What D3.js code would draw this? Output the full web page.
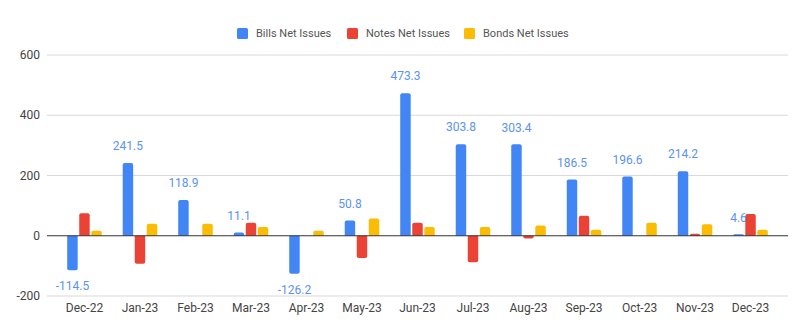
<!DOCTYPE html>
<html>
<head>
<meta charset="utf-8">
<script src="https://cdn.jsdelivr.net/npm/d3@7"></script>
<style>
  body { margin: 0; background: #fff; }
  svg { font-family: Roboto, Arial, sans-serif; }
</style>
</head>
<body>
<div id="chart"></div>
<script>
const months = ['Dec-22', 'Jan-23', 'Feb-23', 'Mar-23', 'Apr-23', 'May-23', 'Jun-23',
  'Jul-23', 'Aug-23', 'Sep-23', 'Oct-23', 'Nov-23', 'Dec-23'];
const seriesNames = ['Bills Net Issues', 'Notes Net Issues', 'Bonds Net Issues'];
const bills = [-114.5, 241.5, 118.9, 11.1, -126.2, 50.8, 473.3, 303.8, 303.4, 186.5, 196.6, 214.2, 4.6];
const notes = [75, -93, 0, 43, 0, -74, 43, -88, -9, 66, 0, 7, 72];
const bonds = [17, 40, 40, 29, 17, 57, 29, 29, 34, 20, 43, 38, 20];
const yTicks = [-200, 0, 200, 400, 600];

const colors = ['#4285f4', '#ea4335', '#fbbc04'];
const width = 798, height = 326;
const plotLeft = 47, plotRight = 788, plotTop = 55, plotBottom = 296;

const values = [bills, notes, bonds];

const svg = d3.select('#chart').append('svg')
  .attr('width', width)
  .attr('height', height);

const y = d3.scaleLinear().domain([-200, 600]).range([plotBottom, plotTop]);

const x0 = d3.scaleBand()
  .domain(months)
  .range([plotLeft, plotRight])
  .paddingInner(0.378)
  .paddingOuter(0.364);

const x1 = d3.scaleBand()
  .domain(seriesNames)
  .range([0, x0.bandwidth()])
  .paddingInner(0.13);

// gridlines
svg.append('g').selectAll('line')
  .data(yTicks.filter(t => t !== 0))
  .enter().append('line')
  .attr('x1', plotLeft).attr('x2', plotRight)
  .attr('y1', d => y(d)).attr('y2', d => y(d))
  .attr('stroke', '#d9d9d9').attr('stroke-width', 1);

// y tick labels
svg.append('g').selectAll('text')
  .data(yTicks)
  .enter().append('text')
  .attr('x', 40)
  .attr('y', d => y(d))
  .attr('dy', '0.35em')
  .attr('text-anchor', 'end')
  .attr('fill', '#444')
  .style('font-size', '12px')
  .text(d => d);

// x labels
svg.append('g').selectAll('text')
  .data(months)
  .enter().append('text')
  .attr('x', d => x0(d) + x0.bandwidth() / 2)
  .attr('y', 308)
  .attr('dy', '0.35em')
  .attr('text-anchor', 'middle')
  .attr('fill', '#444')
  .style('font-size', '12px')
  .text(d => d);

// bars
const groups = svg.append('g').selectAll('g')
  .data(months)
  .enter().append('g')
  .attr('transform', d => `translate(${x0(d)},0)`);

groups.selectAll('path')
  .data((m, i) => seriesNames.map((s, k) => ({ s, k, v: values[k][i] })))
  .enter().append('path')
  .attr('fill', d => colors[d.k])
  .attr('d', d => {
    const bx = x1(d.s), w = x1.bandwidth();
    const y0 = y(0), y1 = y(d.v);
    const h = Math.abs(y1 - y0);
    if (h < 0.5) return '';
    const r = Math.min(2, h);
    if (d.v >= 0) {
      return `M${bx},${y0}V${y1 + r}Q${bx},${y1} ${bx + r},${y1}H${bx + w - r}Q${bx + w},${y1} ${bx + w},${y1 + r}V${y0}Z`;
    }
    return `M${bx},${y0}V${y1 - r}Q${bx},${y1} ${bx + r},${y1}H${bx + w - r}Q${bx + w},${y1} ${bx + w},${y1 - r}V${y0}Z`;
  });

// zero line
svg.append('line')
  .attr('x1', plotLeft).attr('x2', plotRight)
  .attr('y1', y(0)).attr('y2', y(0))
  .attr('stroke', '#333').attr('stroke-width', 1);

// data labels for bills
svg.append('g').selectAll('text')
  .data(months)
  .enter().append('text')
  .attr('x', d => x0(d) + x1(seriesNames[0]) + x1.bandwidth() / 2)
  .attr('y', (d, i) => bills[i] >= 0 ? y(bills[i]) - 17 : y(bills[i]) + 16)
  .attr('dy', '0.35em')
  .attr('text-anchor', 'middle')
  .attr('fill', '#5a93f5')
  .style('font-size', '12px')
  .text((d, i) => bills[i]);

// legend
const legendX = [237, 347, 464];
const legend = svg.append('g').selectAll('g')
  .data(seriesNames)
  .enter().append('g')
  .attr('transform', (d, i) => `translate(${legendX[i]},28)`);

legend.append('rect')
  .attr('width', 11).attr('height', 11).attr('rx', 1.5)
  .attr('fill', (d, i) => colors[i]);

legend.append('text')
  .attr('x', 19).attr('y', 5.5)
  .attr('dy', '0.35em')
  .attr('fill', '#555')
  .style('font-size', '11px')
  .text(d => d);
</script>
</body>
</html>
